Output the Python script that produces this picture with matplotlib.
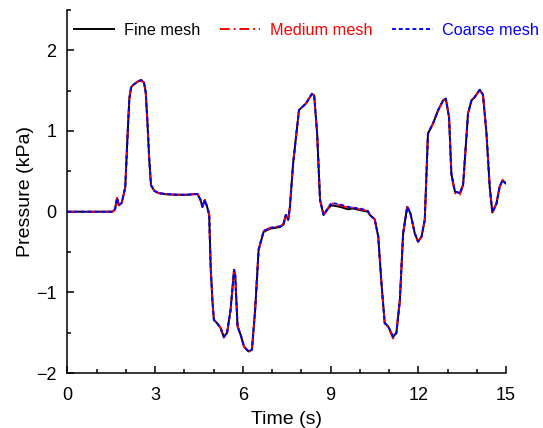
import matplotlib.pyplot as plt
from matplotlib.ticker import MultipleLocator

plt.rcParams['font.family'] = ['Liberation Sans', 'DejaVu Sans']
plt.rcParams['axes.unicode_minus'] = True

# ---- data ---------------------------------------------------------------------------------------
time_s = [0.00, 1.55, 1.63, 1.70, 1.76, 1.86, 1.98, 2.06, 2.12, 2.18, 2.25, 2.40, 2.52, 2.62, 2.68,
          2.74, 2.80, 2.86, 2.97, 3.12, 3.40, 3.75, 4.08, 4.45, 4.55, 4.62, 4.70, 4.78, 4.85,
          4.90, 4.96, 5.01, 5.12, 5.24, 5.35, 5.46, 5.58, 5.70, 5.74, 5.82, 5.93, 6.04, 6.19,
          6.31, 6.42, 6.54, 6.71, 6.93, 7.27, 7.39, 7.47, 7.55, 7.61, 7.72, 7.92, 8.04, 8.16,
          8.36, 8.44, 8.54, 8.64, 8.76, 8.92, 9.03, 9.32, 9.60, 9.77, 10.00, 10.28, 10.34, 10.51,
          10.63, 10.74, 10.85, 10.97, 11.14, 11.25, 11.37, 11.48, 11.62, 11.73, 11.88, 11.99,
          12.11, 12.22, 12.33, 12.50, 12.68, 12.85, 12.94, 13.05, 13.13, 13.25, 13.42, 13.53,
          13.70, 13.82, 13.93, 14.10, 14.21, 14.33, 14.44, 14.53, 14.67, 14.78, 14.88, 14.99]

p_fine = [0.00, 0.00, 0.03, 0.17, 0.08, 0.11, 0.30, 0.95, 1.40, 1.54, 1.57, 1.61, 1.63, 1.60, 1.48,
          1.10, 0.65, 0.33, 0.26, 0.23, 0.215, 0.21, 0.21, 0.22, 0.15, 0.06, 0.145, 0.06, -0.04,
          -0.68, -1.10, -1.34, -1.38, -1.44, -1.55, -1.50, -1.22, -0.72, -0.79, -1.42, -1.53, -1.67, -1.73,
          -1.71, -1.22, -0.47, -0.25, -0.21, -0.19, -0.16, -0.04, -0.10, 0.06, 0.60, 1.26, 1.30, 1.34,
          1.46, 1.44, 0.97, 0.145, -0.04, 0.04, 0.08, 0.06, 0.03, 0.04, 0.02, 0.00, -0.04, -0.095,
          -0.31, -0.89, -1.38, -1.42, -1.55, -1.50, -1.09, -0.27, 0.06, -0.02, -0.27, -0.37,
          -0.31, -0.10, 0.97, 1.09, 1.26, 1.38, 1.40, 1.17, 0.47, 0.25, 0.23, 0.33,
          1.22, 1.38, 1.42, 1.51, 1.45, 0.97, 0.31, -0.01, 0.10, 0.31, 0.39, 0.35]

p_medium = [0.00, 0.00, 0.03, 0.17, 0.08, 0.11, 0.30, 0.95, 1.40, 1.54, 1.57, 1.61, 1.63, 1.60, 1.48,
            1.10, 0.65, 0.33, 0.26, 0.23, 0.215, 0.21, 0.21, 0.22, 0.15, 0.06, 0.145, 0.06, -0.04,
            -0.68, -1.10, -1.34, -1.38, -1.44, -1.56, -1.50, -1.22, -0.72, -0.79, -1.42, -1.53, -1.67, -1.74,
            -1.71, -1.22, -0.47, -0.24, -0.20, -0.18, -0.15, -0.04, -0.10, 0.06, 0.60, 1.26, 1.30, 1.34,
            1.46, 1.44, 0.97, 0.145, -0.04, 0.05, 0.10, 0.08, 0.05, 0.05, 0.03, 0.01, -0.04, -0.095,
            -0.31, -0.89, -1.38, -1.43, -1.57, -1.50, -1.09, -0.27, 0.06, -0.02, -0.27, -0.37,
            -0.31, -0.10, 0.97, 1.09, 1.26, 1.38, 1.40, 1.17, 0.47, 0.23, 0.21, 0.33,
            1.22, 1.38, 1.42, 1.51, 1.45, 0.97, 0.31, -0.01, 0.10, 0.31, 0.39, 0.35]

p_coarse = [0.00, 0.00, 0.03, 0.17, 0.08, 0.11, 0.30, 0.95, 1.40, 1.54, 1.57, 1.61, 1.63, 1.60, 1.48,
            1.10, 0.65, 0.33, 0.26, 0.23, 0.22, 0.21, 0.21, 0.22, 0.15, 0.06, 0.145, 0.06, -0.04,
            -0.68, -1.10, -1.34, -1.38, -1.44, -1.55, -1.50, -1.22, -0.72, -0.79, -1.42, -1.53, -1.67, -1.73,
            -1.71, -1.22, -0.47, -0.24, -0.20, -0.18, -0.15, -0.04, -0.10, 0.06, 0.60, 1.26, 1.30, 1.34,
            1.46, 1.44, 0.97, 0.145, -0.04, 0.05, 0.11, 0.09, 0.06, 0.05, 0.04, 0.01, -0.04, -0.095,
            -0.31, -0.89, -1.38, -1.42, -1.55, -1.50, -1.09, -0.27, 0.06, -0.02, -0.27, -0.37,
            -0.31, -0.10, 0.97, 1.09, 1.26, 1.38, 1.40, 1.17, 0.47, 0.25, 0.23, 0.33,
            1.22, 1.38, 1.42, 1.51, 1.45, 0.97, 0.31, -0.01, 0.10, 0.31, 0.39, 0.35]

series_labels = ['Fine mesh', 'Medium mesh', 'Coarse mesh']

# ---- figure ---------------------------------------------------------------------------------------
fig = plt.figure(figsize=(5.43, 4.28), dpi=100)
ax = fig.add_axes([0.124, 0.128, 0.808, 0.849])

ax.plot(time_s, p_fine, color='black', linestyle='-', linewidth=1.4, label=series_labels[0])
ax.plot(time_s, p_medium, color='red', linestyle=(0, (5, 2, 1, 2)), linewidth=1.4,
        label=series_labels[1])
ax.plot(time_s, p_coarse, color='blue', linestyle=(0, (2, 1.5)), linewidth=1.4,
        label=series_labels[2])

ax.set_xlim(0, 15)
ax.set_ylim(-2, 2.5)
ax.xaxis.set_major_locator(MultipleLocator(3))
ax.xaxis.set_minor_locator(MultipleLocator(1))
ax.yaxis.set_major_locator(MultipleLocator(1))
ax.yaxis.set_minor_locator(MultipleLocator(0.5))
ax.set_yticks([-2, -1, 0, 1, 2])

for side in ('top', 'right'):
    ax.spines[side].set_visible(False)
for side in ('left', 'bottom'):
    ax.spines[side].set_linewidth(1.1)
ax.tick_params(which='major', direction='in', length=5, width=1.1, labelsize=13)
ax.tick_params(axis='x', which='major', pad=10)
ax.tick_params(axis='y', which='major', pad=8)
ax.tick_params(which='minor', direction='in', length=3, width=1.1)

ax.set_xlabel('Time (s)', fontsize=14, labelpad=5)
ax.set_ylabel('Pressure (kPa)', fontsize=14, labelpad=1)

leg = ax.legend(ncol=3, frameon=False, loc='upper center', bbox_to_anchor=(0.545, 1.005),
                fontsize=11.7, handlelength=2.5, handletextpad=0.6, columnspacing=1.2)
for text, colour in zip(leg.get_texts(), ['black', 'red', 'blue']):
    text.set_color(colour)

fig.savefig('out.png', dpi=100)
